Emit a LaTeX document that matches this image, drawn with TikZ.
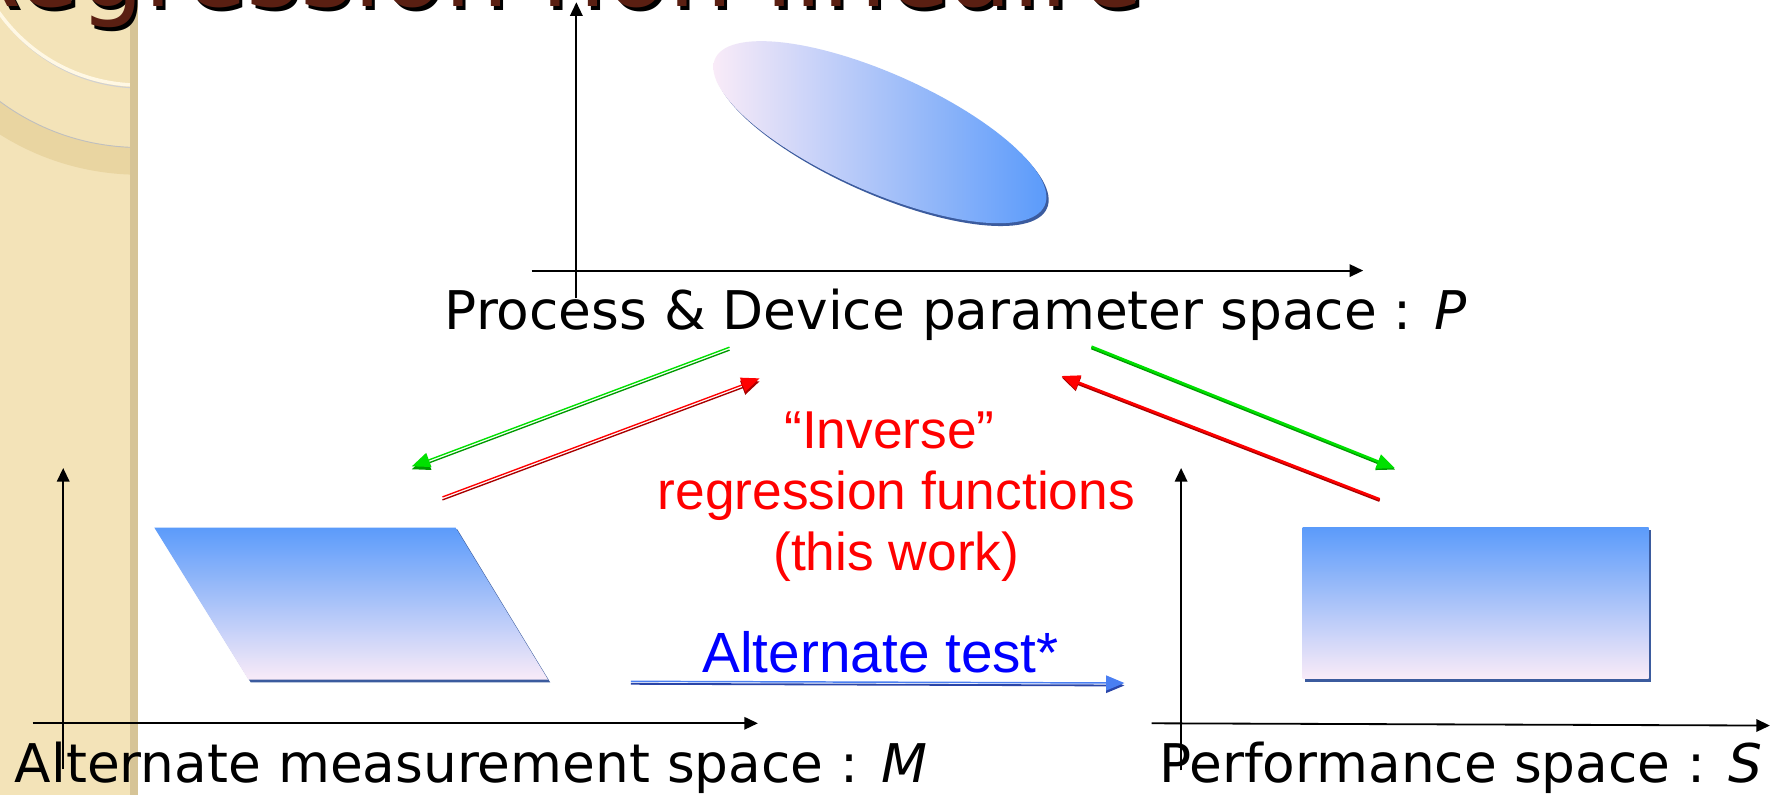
\documentclass[tikz,border=0pt]{standalone}
\usepackage{fontspec}
\setmainfont{DejaVu Sans}
\newfontfamily\arialf{Liberation Sans}
\usetikzlibrary{arrows.meta}

\definecolor{stripc}{HTML}{F3E3B8}
\definecolor{stripedge}{HTML}{D6C497}
\definecolor{ringc}{HTML}{E9D5A1}
\definecolor{creamc}{HTML}{FFF8E4}
\definecolor{titlebrown}{HTML}{5A1F12}
\definecolor{gblue}{HTML}{5B9BFA}
\definecolor{gpink}{HTML}{F9EBF8}
\definecolor{shadowblue}{HTML}{3B5B9E}
\definecolor{lgreen}{HTML}{00E000}
\definecolor{dgreen}{HTML}{009A00}
\definecolor{lred}{HTML}{FF0000}
\definecolor{dred}{HTML}{A80000}
\definecolor{lblue}{HTML}{4A7FF2}
\definecolor{dblue}{HTML}{2A45A8}

\begin{document}
\begin{tikzpicture}[x=1pt,y=-1pt,
  axis/.style={line width=1.6pt,-{Triangle[length=12pt,width=11pt]}},
  ctip/.style={-{Triangle[length=16pt,width=13pt]}},
  lbl/.style={inner sep=0pt,anchor=base west,font=\fontsize{47}{56}\selectfont},
  redlbl/.style={inner sep=0pt,anchor=base,text=lred,font=\arialf\fontsize{47}{54}\selectfont},
  bluelbl/.style={inner sep=0pt,anchor=base west,text=blue,font=\arialf\fontsize{50}{60}\selectfont},
  titlefont/.style={inner sep=0pt,anchor=base east,font=\fontsize{90}{100}\selectfont}
]
\useasboundingbox (0,0) rectangle (1568,701);
\clip (0,0) rectangle (1568,701);
\fill[white] (0,0) rectangle (1568,701);

% left decorative strip
\fill[stripc] (0,0) rectangle (122,701);
\begin{scope}
  \clip (0,0) rectangle (115,701);
  \fill[ringc,even odd rule] (123,-77) circle[radius=231pt] (123,-77) circle[radius=207pt];
  \draw[black!25,line width=0.8pt] (123,-77) circle[radius=207pt];
  \draw[black!18,line width=1pt] (124,-74.5) circle[radius=152pt];
  \draw[creamc,line width=3pt] (123,-77) circle[radius=152pt];
\end{scope}
\fill[stripedge] (115,0) rectangle (122,701);

% title (cut off at the top)
\node[titlefont,text=black] (titleshadow) at (1011,9) {Régression non linéaire};
\node[titlefont,text=titlebrown] (title) at (1008,6) {Régression non linéaire};

% ellipse (process & device parameter space)
\fill[shadowblue] plot[domain=0:360,samples=120,variable=\t]
  ({777.5+159*cos(\t)*cos(24)-52*sin(\t)*sin(24)},{119+159*cos(\t)*sin(24)+52*sin(\t)*cos(24)}) -- cycle;
\shade[left color=gpink,right color=gblue] plot[domain=0:360,samples=120,variable=\t]
  ({775.5+159*cos(\t)*cos(24)-52*sin(\t)*sin(24)},{116.5+159*cos(\t)*sin(24)+52*sin(\t)*cos(24)}) -- cycle;

% parallelogram (alternate measurement space)
\fill[shadowblue] (137.5,466.5) -- (403,466.5) -- (485,601.5) -- (221,601.5) -- cycle;
\shade[top color=gblue,bottom color=gpink] (136,465) -- (401.5,465) -- (483,599) -- (219,599) -- cycle;

% rectangle (performance space)
\fill[shadowblue] (1150,467.5) rectangle (1455.5,601);
\shade[top color=gblue,bottom color=gpink] (1148,465) rectangle (1453,598);

% axes
\coordinate (Pv0) at (508,263);   \coordinate (Pv1) at (508,2);
\coordinate (Ph0) at (468.5,238.5); \coordinate (Ph1) at (1201.5,238.5);
\coordinate (Mv0) at (55.7,678);  \coordinate (Mv1) at (55.7,412.5);
\coordinate (Mh0) at (28.7,637.5); \coordinate (Mh1) at (668,637.5);
\coordinate (Sv0) at (1041,679);  \coordinate (Sv1) at (1041,412.5);
\coordinate (Sh0) at (1015,637.5); \coordinate (Sh1) at (1560,639.5);
\draw[axis] (Pv0) -- (Pv1);
\draw[axis] (Ph0) -- (Ph1);
\draw[axis] (Mv0) -- (Mv1);
\draw[axis] (Mh0) -- (Mh1);
\draw[axis] (Sv0) -- (Sv1);
\draw[axis] (Sh0) -- (Sh1);

% labels
\node[lbl] (Plbl) at (392,290) {Process \& Device parameter space : \textit{P}};
\node[lbl] (Mlbl) at (13,690) {Alternate measurement space : \textit{M}};
\node[lbl] (Slbl) at (1021.5,690) {Performance space : \textit{S}};

\node[redlbl] (inv1) at (784,395) {“Inverse”};
\node[redlbl] (inv2) at (790,449) {regression functions};
\node[redlbl] (inv3) at (790,503) {(this work)};

\node[bluelbl] (alt) at (619,593) {Alternate test*};

% coloured arrows
\coordinate (G1s) at (643,306);   \coordinate (G1e) at (363,411);
\coordinate (R1s) at (390,438);   \coordinate (R1e) at (669.5,333.5);
\coordinate (G2s) at (962,305.5); \coordinate (G2e) at (1229.5,412.7);
\coordinate (R2s) at (1216,440);  \coordinate (R2e) at (935.7,331.4);
\coordinate (Bs) at (556,600.5);  \coordinate (Be) at (991,602);

% double arrows (left side)
\draw[ctip,dgreen,line width=1.2pt,transform canvas={yshift=-2.6pt}] (G1s) -- (G1e);
\draw[ctip,lgreen,line width=1.2pt] (G1s) -- (G1e);
\draw[ctip,dred,line width=1.2pt,transform canvas={yshift=-2.6pt}] (R1s) -- (R1e);
\draw[ctip,lred,line width=1.2pt] (R1s) -- (R1e);

% solid arrows (right side)
\draw[ctip,dgreen,line width=2.4pt,transform canvas={yshift=-1.2pt}] (G2s) -- (G2e);
\draw[ctip,lgreen,line width=2.2pt] (G2s) -- (G2e);
\draw[ctip,dred,line width=2.4pt,transform canvas={yshift=-1.2pt}] (R2s) -- (R2e);
\draw[ctip,lred,line width=2.2pt] (R2s) -- (R2e);

% alternate test arrow
\draw[ctip,dblue,line width=1.6pt,transform canvas={yshift=-2.2pt}] (Bs) -- (Be);
\draw[ctip,lblue,line width=1.3pt] (Bs) -- (Be);
\end{tikzpicture}
\end{document}
